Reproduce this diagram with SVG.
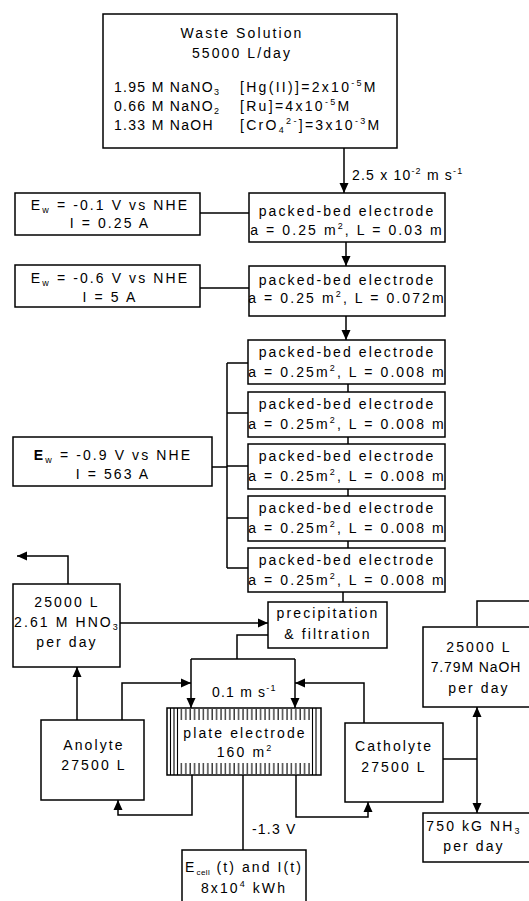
<svg xmlns="http://www.w3.org/2000/svg" width="529" height="901" viewBox="0 0 529 901">
<style>
  .box { fill: #fff; stroke: #000; stroke-width: 1.5; }
  .t { font-family: "Liberation Sans", Arial, sans-serif; font-size: 14px; letter-spacing: 2.1px; fill: #000; text-anchor: middle; }
  .tl { font-family: "Liberation Sans", Arial, sans-serif; font-size: 14px; letter-spacing: 1.2px; fill: #000; text-anchor: start; }
  .c { fill: none; stroke: #000; stroke-width: 1.5; }
  .ca { fill: none; stroke: #000; stroke-width: 1.5; marker-end: url(#ah); }
</style>
<defs>
  <marker id="ah" viewBox="0 0 10 10" refX="10" refY="5" markerWidth="10" markerHeight="10" markerUnits="userSpaceOnUse" orient="auto">
    <path d="M0,0.5 L10,5 L0,9.5 z" fill="#000"/>
  </marker>
  <pattern id="hatch" x="0" y="0" width="4.4" height="20" patternUnits="userSpaceOnUse">
    <line x1="1" y1="0" x2="1" y2="20" stroke="#000" stroke-width="1.1"/>
  </pattern>
</defs>
<rect width="529" height="901" fill="#fff"/>

<g id="connectors">
  <path class="ca" d="M344,148 V193"/>
  <path class="ca" d="M346,242 V266"/>
  <path class="ca" d="M346,316 V340"/>
  <path class="c" d="M348,384 V392 M348,437 V444 M348,489 V496 M348,541 V548"/>
  <path class="c" d="M343,592 V602"/>
  <path class="c" d="M200,213 H249 M200,288 H249 M212,467 H227"/>
  <path class="c" d="M227,363 V568 M227,363 H248 M227,413 H248 M227,466 H248 M227,518 H248 M227,568 H248"/>
  <path class="ca" d="M68,584 V556 H17"/>
  <path class="ca" d="M120,623 H268"/>
  <path class="c" d="M268,635 H237 V659 M191,659 H295"/>
  <path class="ca" d="M191,659 V708"/>
  <path class="ca" d="M295,659 V708"/>
  <path class="ca" d="M77,720 V667"/>
  <path class="ca" d="M122,720 V683 H191"/>
  <path class="ca" d="M364,723 V683 H295"/>
  <path class="ca" d="M192,775 V815 H118 V800"/>
  <path class="ca" d="M296,775 V817 H368 V802"/>
  <path class="c" d="M243,775 V850"/>
  <path class="c" d="M443,759 H477"/>
  <path class="ca" d="M477,759 V707"/>
  <path class="ca" d="M477,759 V813"/>
  <path class="c" d="M477,626 V601 H529"/>
  <text class="tl" x="352" y="180">2.5 x 10<tspan font-size="9" dy="-6">-2</tspan><tspan dy="6"> m s</tspan><tspan font-size="9" dy="-6">-1</tspan></text>
  <text class="tl" x="212" y="697">0.1 m s<tspan font-size="9" dy="-6">-1</tspan></text>
  <text class="tl" x="252" y="834">-1.3 V</text>
</g>

<g id="waste">
  <rect class="box" x="103" y="14" width="294" height="134"/>
  <text class="t" x="242" y="38">Waste Solution</text>
  <text class="t" x="242" y="58">55000 L/day</text>
  <text class="tl" x="114" y="92" style="letter-spacing:1.3px">1.95 M NaNO<tspan font-size="9" dy="3">3</tspan></text>
  <text class="tl" x="114" y="111" style="letter-spacing:1.3px">0.66 M NaNO<tspan font-size="9" dy="3">2</tspan></text>
  <text class="tl" x="114" y="130" style="letter-spacing:1.3px">1.33 M NaOH</text>
  <text class="tl" x="240" y="92" style="letter-spacing:2.3px">[Hg(II)]=2x10<tspan font-size="9" dy="-6">-5</tspan><tspan dy="6">M</tspan></text>
  <text class="tl" x="240" y="111" style="letter-spacing:2.3px">[Ru]=4x10<tspan font-size="9" dy="-6">-5</tspan><tspan dy="6">M</tspan></text>
  <text class="tl" x="240" y="130" style="letter-spacing:2.3px">[CrO<tspan font-size="9" dy="3">4</tspan><tspan font-size="9" dy="-9">2-</tspan><tspan dy="6">]=3x10</tspan><tspan font-size="9" dy="-6">-3</tspan><tspan dy="6">M</tspan></text>
</g>

<g id="ew1">
  <rect class="box" x="15" y="193" width="185" height="42"/>
  <text class="t" x="110" y="210">E<tspan font-size="9" dy="3">w</tspan><tspan dy="-3"> = -0.1 V vs NHE</tspan></text>
  <text class="t" x="110" y="228">I = 0.25 A</text>
</g>
<g id="ew2">
  <rect class="box" x="15" y="265" width="185" height="42"/>
  <text class="t" x="110" y="283">E<tspan font-size="9" dy="3">w</tspan><tspan dy="-3"> = -0.6 V vs NHE</tspan></text>
  <text class="t" x="110" y="302">I = 5 A</text>
</g>
<g id="ew3">
  <rect class="box" x="13" y="437" width="199" height="49"/>
  <text class="t" x="113" y="460"><tspan font-weight="bold">E</tspan><tspan font-size="9" dy="3">w</tspan><tspan dy="-3"> = -0.9 V vs NHE</tspan></text>
  <text class="t" x="113" y="479">I = 563 A</text>
</g>

<g id="pb1">
  <rect class="box" x="249" y="193" width="196" height="49"/>
  <text class="t" x="347" y="216">packed-bed electrode</text>
  <text class="t" x="347" y="235">a = 0.25 m<tspan font-size="9" dy="-6">2</tspan><tspan dy="6">, L = 0.03 m</tspan></text>
</g>
<g id="pb2">
  <rect class="box" x="249" y="266" width="196" height="50"/>
  <text class="t" x="347" y="285">packed-bed electrode</text>
  <text class="t" x="347" y="303">a = 0.25 m<tspan font-size="9" dy="-6">2</tspan><tspan dy="6">, L = 0.072m</tspan></text>
</g>
<g id="pb3">
  <rect class="box" x="248" y="340" width="197" height="44"/>
  <text class="t" x="347" y="357">packed-bed electrode</text>
  <text class="t" x="347" y="377">a = 0.25m<tspan font-size="9" dy="-6">2</tspan><tspan dy="6">, L = 0.008 m</tspan></text>
</g>
<g id="pb4">
  <rect class="box" x="248" y="392" width="197" height="45"/>
  <text class="t" x="347" y="409">packed-bed electrode</text>
  <text class="t" x="347" y="429">a = 0.25m<tspan font-size="9" dy="-6">2</tspan><tspan dy="6">, L = 0.008 m</tspan></text>
</g>
<g id="pb5">
  <rect class="box" x="248" y="444" width="197" height="45"/>
  <text class="t" x="347" y="461">packed-bed electrode</text>
  <text class="t" x="347" y="481">a = 0.25m<tspan font-size="9" dy="-6">2</tspan><tspan dy="6">, L = 0.008 m</tspan></text>
</g>
<g id="pb6">
  <rect class="box" x="248" y="496" width="197" height="45"/>
  <text class="t" x="347" y="513">packed-bed electrode</text>
  <text class="t" x="347" y="533">a = 0.25m<tspan font-size="9" dy="-6">2</tspan><tspan dy="6">, L = 0.008 m</tspan></text>
</g>
<g id="pb7">
  <rect class="box" x="248" y="548" width="197" height="44"/>
  <text class="t" x="347" y="565">packed-bed electrode</text>
  <text class="t" x="347" y="585">a = 0.25m<tspan font-size="9" dy="-6">2</tspan><tspan dy="6">, L = 0.008 m</tspan></text>
</g>

<g id="hno3">
  <rect class="box" x="13" y="584" width="107" height="83"/>
  <text class="t" x="67" y="607">25000 L</text>
  <text class="t" x="67" y="627">2.61 M HNO<tspan font-size="9" dy="3">3</tspan></text>
  <text class="t" x="67" y="647">per day</text>
</g>

<g id="precip">
  <rect class="box" x="268" y="602" width="119" height="46"/>
  <text class="t" x="328" y="618">precipitation</text>
  <text class="t" x="328" y="639">&amp; filtration</text>
</g>

<g id="naoh">
  <rect class="box" x="423" y="627" width="110" height="80"/>
  <text class="t" x="479" y="652">25000 L</text>
  <text class="t" x="476" y="672" style="letter-spacing:0.9px">7.79M NaOH</text>
  <text class="t" x="479" y="693">per day</text>
</g>

<g id="plate">
  <rect class="box" x="167" y="708" width="154" height="67"/>
  <rect x="178" y="709" width="134" height="11" fill="url(#hatch)"/>
  <rect x="178" y="763" width="134" height="11" fill="url(#hatch)"/>
  <path d="M170.5,708 V775 M174,708 V775 M177.5,708 V775 M312.5,708 V775 M316,708 V775" stroke="#000" stroke-width="1.1" fill="none"/>
  <text class="t" x="245" y="738">plate electrode</text>
  <text class="t" x="245" y="757">160 m<tspan font-size="9" dy="-6">2</tspan></text>
</g>

<g id="anolyte">
  <rect class="box" x="41" y="720" width="103" height="80"/>
  <text class="t" x="94" y="750">Anolyte</text>
  <text class="t" x="94" y="770">27500 L</text>
</g>

<g id="catholyte">
  <rect class="box" x="345" y="723" width="98" height="79"/>
  <text class="t" x="394" y="751">Catholyte</text>
  <text class="t" x="394" y="772">27500 L</text>
</g>

<g id="nh3">
  <rect class="box" x="423" y="813" width="110" height="49"/>
  <text class="t" x="474" y="831">750 kG NH<tspan font-size="9" dy="3">3</tspan></text>
  <text class="t" x="474" y="851">per day</text>
</g>

<g id="ecell">
  <rect class="box" x="182" y="850" width="124" height="60"/>
  <text class="t" x="244" y="872">E<tspan font-size="8" dy="3" style="letter-spacing:0.5px">cell</tspan><tspan dy="-3"> (t) and I(t)</tspan></text>
  <text class="t" x="244" y="893">8x10<tspan font-size="9" dy="-6">4</tspan><tspan dy="6"> kWh</tspan></text>
</g>
</svg>
